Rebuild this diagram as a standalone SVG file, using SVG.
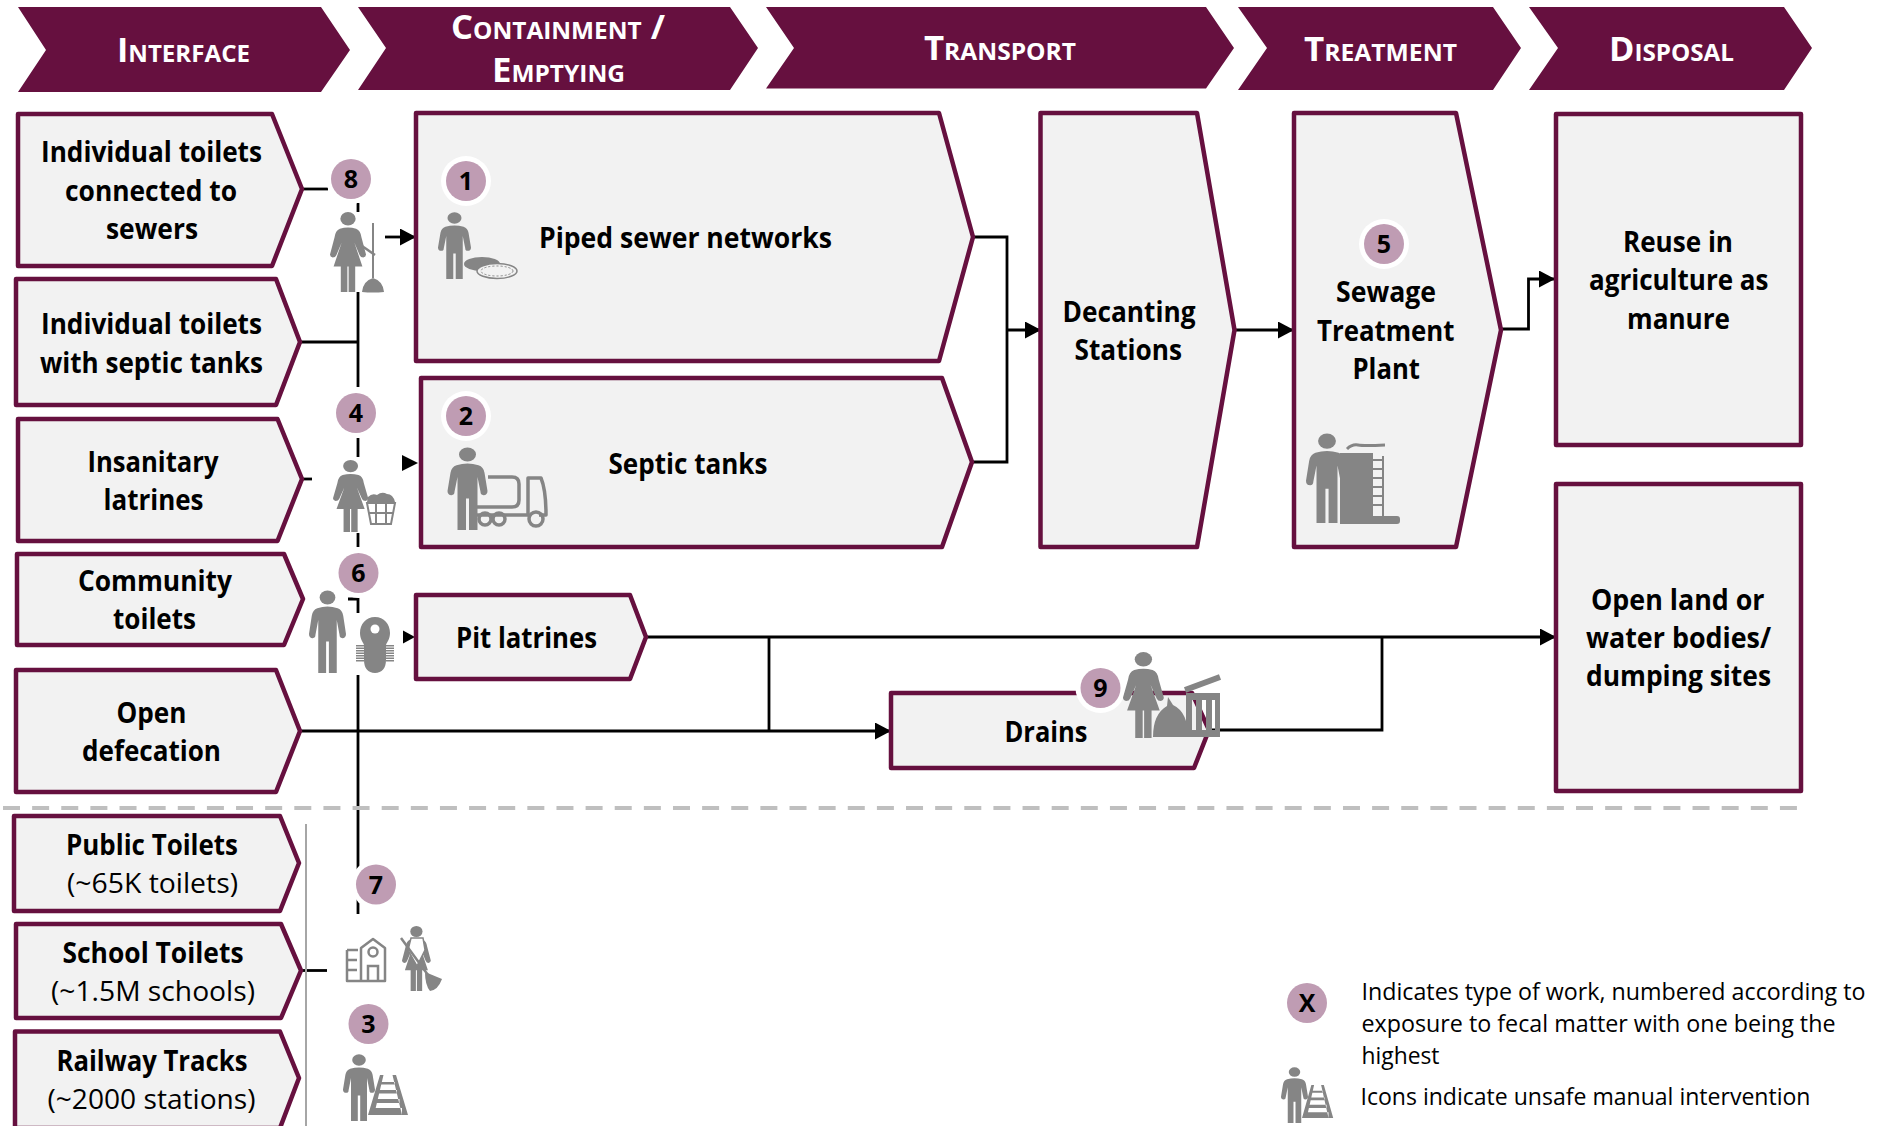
<svg xmlns="http://www.w3.org/2000/svg" width="1886" height="1126" viewBox="0 0 1886 1126">
<style>
text{font-family:"Open Sans","Liberation Sans",sans-serif;fill:#000}
.b{font-size:28px;font-weight:700}
.r{font-size:28px;font-weight:400}
.l{font-size:24px;font-weight:400}
.h{font-size:34px;font-weight:700;fill:#fff;font-variant:small-caps}
.n{font-size:25px;font-weight:700;text-anchor:middle}
.hd{fill:#66103f}
.box{fill:#f2f2f2;stroke:#66103f;stroke-width:4.500;stroke-linejoin:round}
.c{fill:none;stroke:#000;stroke-width:2.800}
.a{marker-end:url(#ah)}
.ic{fill:#858585}
.is{fill:none;stroke:#858585}
.ring{fill:#fff}
.dot{fill:#bf9cb3}
</style>
<defs>
<marker id="ah" markerUnits="userSpaceOnUse" markerWidth="16" markerHeight="17" refX="16" refY="8.500" orient="auto"><path d="M0 0L16 8.500L0 17Z" fill="#000"/></marker>
<g id="man"><circle cx="20" cy="9" r="8.500"/><path d="M9 22Q20 18 31 22Q36 24 37 31L40 53Q40 58 36 58Q33 58 33 54L30 36V100H21.500V62H18.500V100H10V36L7 54Q7 58 4 58Q0 58 0 53L3 31Q4 24 9 22Z"/></g>
<g id="woman"><circle cx="20" cy="8.500" r="8.500"/><path d="M11 21Q20 18 29 21Q34 23 35 32L40 53Q40 56 37 57Q34 57 33 54L27 38L36 68H28V100H20.700V68H19.300V100H12V68H4L13 38L7 54Q6 57 3 57Q0 56 0 53L5 32Q6 23 11 21Z"/></g>
<g id="track"><path d="M12 0H15.500L6 40H0ZM28 0H24.500L34 40H40ZM13 7H27V9.500H13ZM11 15H29V18.500H11ZM8.500 24H31.500V28H8.500ZM6 33H34V40H6Z"/></g>
</defs>

<g id="connectors">
<path class="c" d="M302 189H328"/>
<path class="c" d="M358 203V212"/>
<path class="c" d="M300 342H358"/>
<path class="c" d="M358 292V387"/>
<path class="c" d="M358 438V457"/>
<path class="c" d="M302 479H312"/>
<path class="c" d="M358 533V547"/>
<path class="c" d="M348 599H358V613"/>
<path class="c" d="M303 599H304"/>
<path class="c" d="M358 675V914"/>
<path class="c" d="M301 970.500H327"/>
<path class="c a" d="M385 237H416"/>
<path d="M402 455L418 463L402 471Z" fill="#000"/>
<path d="M403 630.500L415 637L403 643.500Z" fill="#000"/>
<path class="c" d="M300 731H769"/>
<path class="c a" d="M646 637H1556"/>
<path class="c" d="M769 637V731"/>
<path class="c a" d="M769 731H891"/>
<path class="c" d="M1209 730H1382V637"/>
<path class="c" d="M973 237H1007V462H972"/>
<path class="c a" d="M1007 330H1041"/>
<path class="c a" d="M1234 330H1294"/>
<path class="c a" d="M1501 329H1528.500V279H1555"/>
<path d="M3 808H1797" fill="none" stroke="#bfbfbf" stroke-width="4" stroke-dasharray="17 12.130"/>
<path d="M306 824V1126" fill="none" stroke="#a6a6a6" stroke-width="2"/>
</g>

<g id="header-interface"><path class="hd" d="M18 7H321L350 50L321 92H18L46 50Z"/><text class="h" x="117" y="62" textLength="133" lengthAdjust="spacingAndGlyphs">Interface</text></g>
<g id="header-containment"><path class="hd" d="M358 7H730L758 48L730 90H358L386 48Z"/><text class="h" x="451" y="39" textLength="214" lengthAdjust="spacingAndGlyphs">Containment /</text><text class="h" x="492" y="82" textLength="133" lengthAdjust="spacingAndGlyphs">Emptying</text></g>
<g id="header-transport"><path class="hd" d="M766 7H1206L1234 48L1206 88.500H766L794 48Z"/><text class="h" x="924" y="60" textLength="152" lengthAdjust="spacingAndGlyphs">Transport</text></g>
<g id="header-treatment"><path class="hd" d="M1238 7H1493L1521 48L1493 90H1238L1267 48Z"/><text class="h" x="1304" y="61" textLength="153" lengthAdjust="spacingAndGlyphs">Treatment</text></g>
<g id="header-disposal"><path class="hd" d="M1529 7H1784L1812 48L1784 90H1529L1558 48Z"/><text class="h" x="1609" y="61" textLength="125" lengthAdjust="spacingAndGlyphs">Disposal</text></g>

<g id="individual-sewers"><path class="box" d="M18 114H272L302 189L272 266H18Z"/>
<text class="b" x="41" y="162" textLength="221" lengthAdjust="spacingAndGlyphs">Individual toilets</text>
<text class="b" x="65" y="200.500" textLength="172" lengthAdjust="spacingAndGlyphs">connected to</text>
<text class="b" x="106" y="239" textLength="92" lengthAdjust="spacingAndGlyphs">sewers</text></g>
<g id="individual-septic"><path class="box" d="M16 279H276L300 342L276 405H16Z"/>
<text class="b" x="41" y="334" textLength="221" lengthAdjust="spacingAndGlyphs">Individual toilets</text>
<text class="b" x="40" y="372.500" textLength="223" lengthAdjust="spacingAndGlyphs">with septic tanks</text></g>
<g id="insanitary-latrines"><path class="box" d="M18 419H277.500L302 479L277.500 541H18Z"/>
<text class="b" x="87.500" y="472" textLength="131" lengthAdjust="spacingAndGlyphs">Insanitary</text>
<text class="b" x="103.500" y="510" textLength="100" lengthAdjust="spacingAndGlyphs">latrines</text></g>
<g id="community-toilets"><path class="box" d="M17 554H284L303 599L284 645H17Z"/>
<text class="b" x="78" y="591" textLength="154" lengthAdjust="spacingAndGlyphs">Community</text>
<text class="b" x="113" y="628.500" textLength="83" lengthAdjust="spacingAndGlyphs">toilets</text></g>
<g id="open-defecation"><path class="box" d="M16 670H276L300 731L276 792H16Z"/>
<text class="b" x="116.500" y="723" textLength="70" lengthAdjust="spacingAndGlyphs">Open</text>
<text class="b" x="82" y="760.500" textLength="139" lengthAdjust="spacingAndGlyphs">defecation</text></g>
<g id="public-toilets"><path class="box" d="M14 816H280L299 863L280 911H14Z"/>
<text class="b" x="66" y="855" textLength="172" lengthAdjust="spacingAndGlyphs">Public Toilets</text>
<text class="r" x="67" y="892.500" textLength="171" lengthAdjust="spacingAndGlyphs">(~65K toilets)</text></g>
<g id="school-toilets"><path class="box" d="M16 924H281L301 970.500L281 1018H16Z"/>
<text class="b" x="62.500" y="962.500" textLength="181" lengthAdjust="spacingAndGlyphs">School Toilets</text>
<text class="r" x="51" y="1000.500" textLength="204" lengthAdjust="spacingAndGlyphs">(~1.5M schools)</text></g>
<g id="railway-tracks"><path class="box" d="M15 1031.500H280L299 1078L280 1128H15Z"/>
<text class="b" x="56.500" y="1070.500" textLength="191" lengthAdjust="spacingAndGlyphs">Railway Tracks</text>
<text class="r" x="47.500" y="1109" textLength="208" lengthAdjust="spacingAndGlyphs">(~2000 stations)</text></g>

<g id="piped-sewer"><path class="box" d="M416 113H939L973 237L939 361H416Z"/>
<text class="b" x="539" y="247.500" textLength="293" lengthAdjust="spacingAndGlyphs">Piped sewer networks</text></g>
<g id="septic-tanks"><path class="box" d="M421 378H942L972 462L942 547H421Z"/>
<text class="b" x="608.500" y="473.500" textLength="159" lengthAdjust="spacingAndGlyphs">Septic tanks</text></g>
<g id="pit-latrines"><path class="box" d="M416 595H630L646 637L630 679H416Z"/>
<text class="b" x="456" y="647.500" textLength="141" lengthAdjust="spacingAndGlyphs">Pit latrines</text></g>
<g id="drains"><path class="box" d="M891 693H1192L1209 730L1194 768H891Z"/>
<text class="b" x="1004.500" y="741.500" textLength="83" lengthAdjust="spacingAndGlyphs">Drains</text></g>
<g id="decanting"><path class="box" d="M1040.500 113H1197L1234.500 330L1197 547H1040.500Z"/>
<text class="b" x="1062.500" y="322" textLength="133" lengthAdjust="spacingAndGlyphs">Decanting</text>
<text class="b" x="1074.500" y="359.500" textLength="107.500" lengthAdjust="spacingAndGlyphs">Stations</text></g>
<g id="treatment-plant"><path class="box" d="M1294 113H1456L1501 330L1456 547H1294Z"/>
<text class="b" x="1336" y="302" textLength="100" lengthAdjust="spacingAndGlyphs">Sewage</text>
<text class="b" x="1317" y="340.500" textLength="137.500" lengthAdjust="spacingAndGlyphs">Treatment</text>
<text class="b" x="1352.500" y="378.500" textLength="67.500" lengthAdjust="spacingAndGlyphs">Plant</text></g>
<g id="reuse"><rect class="box" x="1556" y="114" width="245" height="331"/>
<text class="b" x="1623" y="252" textLength="110" lengthAdjust="spacingAndGlyphs">Reuse in</text>
<text class="b" x="1589" y="290" textLength="179.500" lengthAdjust="spacingAndGlyphs">agriculture as</text>
<text class="b" x="1627" y="328.500" textLength="103" lengthAdjust="spacingAndGlyphs">manure</text></g>
<g id="open-land"><rect class="box" x="1556" y="484" width="245" height="307"/>
<text class="b" x="1591" y="609.500" textLength="173.500" lengthAdjust="spacingAndGlyphs">Open land or</text>
<text class="b" x="1586" y="647.500" textLength="185" lengthAdjust="spacingAndGlyphs">water bodies/</text>
<text class="b" x="1586" y="686" textLength="185" lengthAdjust="spacingAndGlyphs">dumping sites</text></g>

<g id="icons">
<use class="ic" href="#man" transform="translate(438 212) scale(.825 .67)"/>
<ellipse class="ic" cx="482" cy="264" rx="18" ry="7"/>
<ellipse cx="497" cy="271" rx="20" ry="7.500" fill="#f2f2f2" stroke="#858585" stroke-width="1.500"/>
<ellipse cx="497" cy="271" rx="16" ry="5" fill="none" stroke="#858585" stroke-width="1" stroke-dasharray="2 2"/>

<use class="ic" href="#woman" transform="translate(330 212) scale(.9 .8)"/>
<path class="is" stroke-width="2.500" d="M362 246L375 255"/>
<path class="is" stroke-width="2" d="M373 223V278"/>
<path class="ic" d="M362 292Q363 281 373 278Q383 281 384 292Q373 293 362 292Z"/>

<use class="ic" href="#man" transform="translate(447.500 447) scale(1 .83)"/>
<path class="is" stroke-width="3.500" stroke-linejoin="round" d="M488 477H512Q519 477 519 484V500Q519 507 512 507H477M477 515H528V478H541Q546 490 546 515H539"/>
<circle class="is" stroke-width="3.500" cx="485" cy="519" r="6"/><circle class="is" stroke-width="3.500" cx="499" cy="519" r="6"/><circle class="is" stroke-width="3.500" cx="536" cy="519" r="7"/>

<use class="ic" href="#woman" transform="translate(333 460) scale(.88 .72)"/>
<path class="ic" d="M368 497Q372 493 377 495Q382 491 387 494Q393 494 395 502H367Z"/>
<path class="is" stroke-width="2" d="M367 503H395L391 524H371ZM376 503V524M386 503V524M369 513H393"/>

<use class="ic" href="#man" transform="translate(309 590) scale(.925 .83)"/>
<path class="ic" d="M375 617C384 617 390 624 390 633C390 639 387 642 386 645V660C386 668 382 673 375 673C368 673 364 668 364 660V645C363 642 360 639 360 633C360 624 366 617 375 617Z"/>
<circle cx="375" cy="629" r="4.500" fill="#fff"/>
<path class="is" stroke-width="8" stroke-dasharray="1.500 1" d="M360 645V662M390 645V662"/>

<path class="is" stroke-width="2.500" stroke-linejoin="round" d="M347 950H358M347 950V981H385V948L373 939L361 948V981M347 960H357M347 970H357"/>
<circle class="is" stroke-width="2.500" cx="373" cy="952" r="4.500"/>
<path class="is" stroke-width="2.500" d="M368 981V966H378V981"/>
<use class="ic" href="#woman" transform="translate(402 926) scale(.72 .65)"/>
<path d="M411 938H423L425 950L417 966L408 950Z" fill="#fff" stroke="#858585" stroke-width="1.500"/>
<path class="is" stroke-width="2.500" d="M401 938L428 975"/>
<path class="ic" d="M425 972L442 979Q438 990 430 991Q425 985 425 972Z"/>

<use class="ic" href="#man" transform="translate(343 1054) scale(.8 .67)"/>
<use class="ic" href="#track" transform="translate(368 1075)"/>

<use class="ic" href="#man" transform="translate(1306 433) scale(1.05 .9)"/>
<path class="ic" d="M1340 453H1373V516H1382V456H1384V516H1397Q1400 516 1400 519V521Q1400 524 1397 524H1340Z"/>
<path class="is" stroke-width="3" d="M1347 449Q1352 444 1358 445T1385 445"/>
<path d="M1373 460H1382M1373 469H1382M1373 478H1382M1373 487H1382M1373 496H1382M1373 505H1382" stroke="#858585" stroke-width="2" fill="none"/>
</g>

<g id="badges">
<g id="b8"><circle class="ring" cx="351" cy="179" r="25"/><circle class="dot" cx="351" cy="179" r="20"/><text class="n" x="351" y="188">8</text></g>
<g id="b1"><circle class="ring" cx="466" cy="181" r="25"/><circle class="dot" cx="466" cy="181" r="20"/><text class="n" x="466" y="190">1</text></g>
<g id="b4"><circle class="ring" cx="356" cy="413" r="25"/><circle class="dot" cx="356" cy="413" r="20"/><text class="n" x="356" y="422">4</text></g>
<g id="b2"><circle class="ring" cx="466" cy="416" r="25"/><circle class="dot" cx="466" cy="416" r="20"/><text class="n" x="466" y="425">2</text></g>
<g id="b6"><circle class="ring" cx="358.500" cy="573" r="25"/><circle class="dot" cx="358.500" cy="573" r="20"/><text class="n" x="358.500" y="582">6</text></g>
<g id="b7"><circle class="ring" cx="376" cy="884.500" r="25"/><circle class="dot" cx="376" cy="884.500" r="20"/><text class="n" x="376" y="893.500">7</text></g>
<g id="b3"><circle class="ring" cx="368.500" cy="1024" r="25"/><circle class="dot" cx="368.500" cy="1024" r="20"/><text class="n" x="368.500" y="1033">3</text></g>
<g id="b5"><circle class="ring" cx="1384" cy="244" r="25"/><circle class="dot" cx="1384" cy="244" r="20"/><text class="n" x="1384" y="253">5</text></g>
<g id="b9"><circle class="ring" cx="1100.500" cy="688" r="25"/><circle class="dot" cx="1100.500" cy="688" r="20"/><text class="n" x="1100.500" y="697">9</text></g>
</g>

<g id="icons-drains">
<use class="ic" href="#woman" transform="translate(1123 652) scale(1.02 .86)"/>
<path class="ic" d="M1168 697L1173 705Q1188 712 1188 737H1153Q1153 714 1167 706Z"/>
<path class="ic" d="M1186 693H1220V737H1186ZM1192 700V730H1196V700ZM1202 700V730H1206V700ZM1212 700V730H1215V700Z" fill-rule="evenodd"/>
<path class="is" stroke-width="6" d="M1185 690L1220 677"/>
</g>

<g id="legend">
<circle class="dot" cx="1307" cy="1003" r="20"/><text class="n" x="1307" y="1012">X</text>
<use class="ic" href="#man" transform="translate(1281 1067) scale(.675 .56)"/>
<use class="ic" href="#track" transform="translate(1302 1085) scale(.78 .825)"/>
<text class="l" x="1361.500" y="1000" textLength="504" lengthAdjust="spacingAndGlyphs">Indicates type of work, numbered according to</text>
<text class="l" x="1361.500" y="1032" textLength="474" lengthAdjust="spacingAndGlyphs">exposure to fecal matter with one being the</text>
<text class="l" x="1361.500" y="1063.500" textLength="78" lengthAdjust="spacingAndGlyphs">highest</text>
<text class="l" x="1360.500" y="1105" textLength="450" lengthAdjust="spacingAndGlyphs">Icons indicate unsafe manual intervention</text>
</g>
</svg>
